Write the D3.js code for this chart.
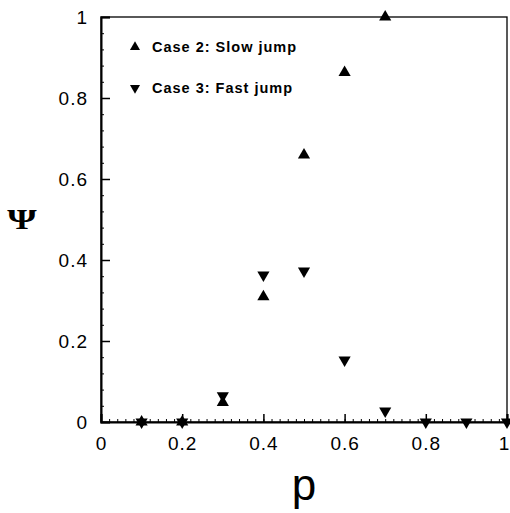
<!DOCTYPE html>
<html>
<head>
<meta charset="utf-8">
<script src="https://cdn.jsdelivr.net/npm/d3@7"></script>
<style>
	body { margin: 0; background: #fff; }
	text { font-family: "Liberation Sans", Arial, sans-serif; fill: #000; }
</style>
</head>
<body>
<svg id="chart" width="510" height="513"></svg>
<script>
// values
var slowP = [0.1, 0.2, 0.3, 0.4, 0.5, 0.6, 0.7];
var slowPsi = [0, 0, 0.048, 0.309, 0.659, 0.863, 1.0];
var fastP = [0.1, 0.2, 0.3, 0.4, 0.5, 0.6, 0.7, 0.8, 0.9, 1.0];
var fastPsi = [0, 0, 0.065, 0.363, 0.373, 0.153, 0.027, 0, 0, 0];
var tickVals = [0, 0.2, 0.4, 0.6, 0.8, 1];
var tickLabels = ["0", "0.2", "0.4", "0.6", "0.8", "1"];
var legendLabels = ["Case 2: Slow jump", "Case 3: Fast jump"];

var svg = d3.select("#chart");

var x = d3.scaleLinear().domain([0, 1]).range([101, 507]);
var y = d3.scaleLinear().domain([0, 1]).range([422, 17]);

// frame
svg.append("rect")
	.attr("x", x(0)).attr("y", y(1))
	.attr("width", x(1) - x(0)).attr("height", y(0) - y(1))
	.attr("fill", "none").attr("stroke", "#000").attr("stroke-width", 1.3);

// bottom axis, ticks pointing in
var xAxis = d3.axisTop(x)
	.tickValues(tickVals)
	.tickSize(8)
	.tickFormat(function(d, i) { return tickLabels[i]; });
var gx = svg.append("g").attr("transform", "translate(0," + y(0) + ")").call(xAxis);
gx.select(".domain").attr("stroke-width", 2);
gx.selectAll(".tick line").attr("stroke-width", 1.5);
gx.selectAll(".tick text")
	.attr("y", 28).attr("dy", 0)
	.attr("x", function(d) { return d == 1 ? -3 : 0; })
	.style("font-size", "19px").style("letter-spacing", "1px");

var gxMinor = svg.append("g").attr("transform", "translate(0," + y(0) + ")")
	.call(d3.axisTop(x).tickValues(d3.range(0.02, 1, 0.02)).tickSize(3).tickFormat(""));
gxMinor.select(".domain").remove();

// left axis, ticks pointing in
var yAxis = d3.axisRight(y)
	.tickValues(tickVals)
	.tickSize(9)
	.tickFormat(function(d, i) { return tickLabels[i]; });
var gy = svg.append("g").attr("transform", "translate(" + x(0) + ",0)").call(yAxis);
gy.select(".domain").attr("stroke-width", 2);
gy.selectAll(".tick line").attr("stroke-width", 1.5);
gy.selectAll(".tick text")
	.attr("x", -13).attr("text-anchor", "end").attr("dy", "0.35em")
	.style("font-size", "19px").style("letter-spacing", "1px");
gy.selectAll(".tick").filter(function(d) { return d == 0; }).select("line").remove();

var gyMinor = svg.append("g").attr("transform", "translate(" + x(0) + ",0)")
	.call(d3.axisRight(y).tickValues(d3.range(0.04, 1, 0.04)).tickSize(3).tickFormat(""));
gyMinor.select(".domain").remove();

// markers
var tri = d3.symbol().type(d3.symbolTriangle).size(64);

svg.append("g").selectAll("path.slow")
	.data(slowP.map(function(p, i) { return [p, slowPsi[i]]; }))
	.enter().append("path")
	.attr("class", "slow")
	.attr("d", tri)
	.attr("transform", function(d) { return "translate(" + x(d[0]) + "," + y(d[1]) + ")"; })
	.attr("fill", "#000");

svg.append("g").selectAll("path.fast")
	.data(fastP.map(function(p, i) { return [p, fastPsi[i]]; }))
	.enter().append("path")
	.attr("class", "fast")
	.attr("d", tri)
	.attr("transform", function(d) { return "translate(" + x(d[0]) + "," + y(d[1]) + ") rotate(180)"; })
	.attr("fill", "#000");

// legend
var legend = svg.append("g");
legendLabels.forEach(function(label, i) {
	var ly = 47 + i * 41;
	legend.append("path")
		.attr("d", d3.symbol().type(d3.symbolTriangle).size(44))
		.attr("transform", "translate(135," + ly + ")" + (i == 1 ? " rotate(180)" : ""))
		.attr("fill", "#000");
	legend.append("text")
		.attr("x", 152).attr("y", ly + 5)
		.style("font-size", "14.5px").style("font-weight", "bold")
		.style("letter-spacing", "1px")
		.text(label);
});

// axis titles
svg.append("text")
	.attr("transform", "translate(22,229) scale(1.3,1)")
	.attr("text-anchor", "middle")
	.style("font-family", "'Liberation Serif', serif")
	.style("font-size", "29px").style("font-weight", "bold")
	.text("Ψ");

svg.append("text")
	.attr("x", 304).attr("y", 500)
	.attr("text-anchor", "middle")
	.style("font-size", "44px")
	.text("p");
</script>
</body>
</html>
